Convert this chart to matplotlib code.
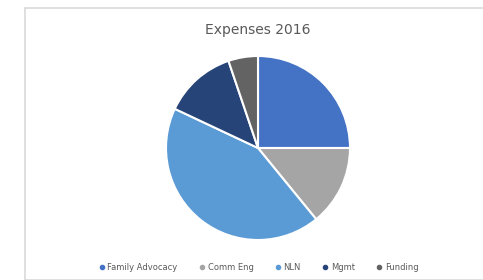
import matplotlib.pyplot as plt
from matplotlib.patches import Rectangle

# Data
labels = ['Family Advocacy', 'Comm Eng', 'NLN', 'Mgmt', 'Funding']
values = [25.0, 14.1, 42.9, 12.8, 5.2]
colors = ['#4472C4', '#A5A5A5', '#5B9BD5', '#264478', '#636363']

fig = plt.figure(figsize=(4.83, 2.80), dpi=100)
fig.patch.set_facecolor('white')

# chart area border
fig.patches.append(Rectangle((25 / 483, 0), 1, 1 - 7.5 / 280, transform=fig.transFigure,
                             fill=False, edgecolor='#d9d9d9', linewidth=1.2))

# pie axes: center ~(258,148), radius ~92 px
ax = fig.add_axes([(258 - 92) / 483, 1 - (148 + 92) / 280, 184 / 483, 184 / 280])
ax.pie(values, colors=colors, startangle=90, counterclock=False,
       wedgeprops=dict(edgecolor='white', linewidth=1.5))
ax.set_xlim(-1, 1)
ax.set_ylim(-1, 1)
ax.set_aspect('equal')

fig.text(258 / 483, 1 - 30 / 280, 'Expenses 2016', ha='center', va='center',
         fontsize=10, color='#595959')

handles = [plt.Line2D([], [], marker='o', linestyle='', markersize=3, color=c) for c in colors]
fig.legend(handles, labels, loc='center', bbox_to_anchor=(258 / 483, 1 - 267 / 280),
           ncol=5, frameon=False, fontsize=6, labelcolor='#595959',
           handletextpad=0.2, columnspacing=2.4, handlelength=1)

fig.savefig('out.png', dpi=100)
